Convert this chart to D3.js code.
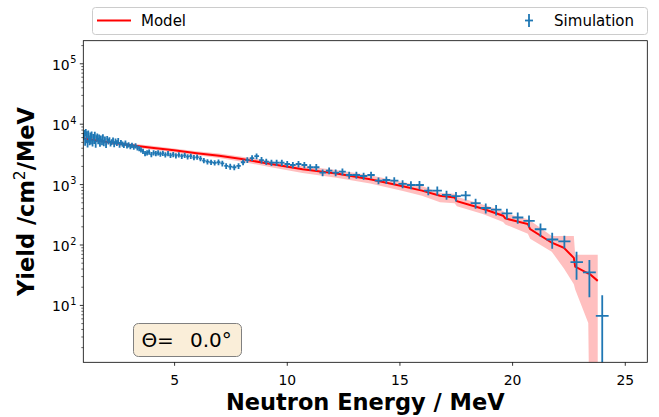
<!DOCTYPE html>
<html><head><meta charset="utf-8">
<script src="https://cdn.jsdelivr.net/npm/d3@7"></script>
<style>body{margin:0;background:#fff;} svg{display:block;font-family:"DejaVu Sans",sans-serif;}</style>
</head><body><svg id="c" width="659" height="417"></svg>
<script>
// ---- data ----
const simE = [1.00,1.03,1.05,1.08,1.11,1.13,1.16,1.19,1.22,1.25,
  1.28,1.31,1.34,1.38,1.41,1.45,1.48,1.52,1.55,1.59,
  1.63,1.67,1.71,1.75,1.80,1.84,1.88,1.93,1.98,2.03,
  2.08,2.13,2.18,2.23,2.29,2.34,2.40,2.46,2.52,2.58,
  2.64,2.71,2.77,2.84,2.91,2.98,3.06,3.13,3.21,3.29,
  3.37,3.45,3.53,3.62,3.71,3.80,3.89,3.99,4.09,4.19,
  4.29,4.39,4.50,4.61,4.73,4.84,4.96,5.08,5.21,5.34,
  5.47,5.60,5.74,5.88,6.02,6.17,6.32,6.48,6.64,6.80,
  6.97,7.14,7.31,7.49,7.67,7.86,8.06,8.25,8.46,8.66,
  8.88,9.09,9.32,9.55,9.78,10.02,10.27,10.52,10.78,11.04,
  11.31,11.59,11.88,12.17,12.47,12.77,13.09,13.41,13.74,14.07,
  14.42,14.77,15.14,15.51,15.89,16.28,16.68,17.09,17.51,17.94,
  18.38,18.83,19.29,19.77,20.25,20.75,21.26,21.78,22.32,22.86,23.43,24.00];
const simY = [6200,6900,5000,7200,5500,6600,4700,6800,5600,5100,
  6300,5200,6600,4800,6000,5300,6500,4600,5700,6100,
  5200,5900,4700,5700,5000,6000,4800,5500,4500,5600,
  5100,5400,4700,5000,5300,4600,5100,4800,5200,4500,
  4900,4600,4400,4800,4300,4500,4200,4400,4100,4300,
  4000,3900,3700,3500,3200,3300,3400,3100,3300,3200,
  3300,3150,3250,3050,3200,3000,3100,2950,3050,2900,
  3000,2850,2900,2750,2800,2650,2450,2350,2300,2250,
  2300,2200,2000,1950,1900,2000,2300,2500,2700,2900,
  2500,2350,2260,2260,2260,2150,2070,2150,2070,1900,
  1900,1545,1668,1545,1605,1415,1415,1362,1415,1138,
  1169,1138,1005,967,967,778,778,662,630,650,
  483,402,377,327,280,247,179,121,113,51,34.5,6.6];
const simRelErr = [0.14,0.14,0.14,0.14,0.14,0.14,0.14,0.14,0.14,0.14,
  0.13,0.13,0.13,0.13,0.13,0.13,0.13,0.13,0.13,0.13,
  0.12,0.12,0.12,0.12,0.12,0.12,0.12,0.12,0.12,0.12,
  0.11,0.11,0.11,0.11,0.11,0.11,0.11,0.11,0.11,0.11,
  0.10,0.10,0.10,0.10,0.10,0.10,0.10,0.10,0.10,0.10,
  0.10,0.10,0.10,0.10,0.10,0.10,0.10,0.10,0.10,0.10,
  0.10,0.10,0.10,0.10,0.10,0.10,0.10,0.10,0.10,0.10,
  0.10,0.10,0.10,0.10,0.10,0.10,0.10,0.10,0.10,0.10,
  0.11,0.11,0.11,0.11,0.11,0.11,0.11,0.11,0.11,0.11,
  0.12,0.12,0.12,0.12,0.12,0.12,0.12,0.12,0.12,0.12,
  0.13,0.13,0.13,0.13,0.13,0.13,0.13,0.13,0.13,0.13,
  0.14,0.14,0.15,0.15,0.16,0.16,0.17,0.17,0.18,0.18,
  0.19,0.19,0.20,0.20,0.21,0.22,0.25,0.30,0.24,0.49,0.61,1.18];

const modelE  = [1.0,2.0,3.0,4.0,5.0,6.0,7.0,8.0,9.3,10.7,12.2,13.7,15.2,16.0,16.8,17.45,17.55,18.7,19.6,19.7,20.7,20.8,21.76,22.3,22.74,22.8,23.38,23.42,23.8];
const modelY  = [5700,5000,4450,4000,3630,3250,2950,2600,2150,1760,1500,1200,910,780,640,600,520,390,300,270,218,180,107,88,60,43,33,33,25];
const modelHi = [6100,5350,4750,4300,3900,3500,3200,2850,2400,2000,1720,1400,1070,930,720,690,620,460,360,330,262,250,138,138,138,68,68,68,68];
const modelLo = [5300,4650,4150,3700,3350,3000,2700,2350,1900,1520,1280,1020,760,640,500,480,430,320,235,215,150,125,76,40,22,18,5,0.3,0.3];

const xTicks = [5,10,15,20,25];
const yMajor = [10,100,1000,10000,100000];
const yExp = ["1","2","3","4","5"];

// ---- layout ----
const m = {left:83.3, right:647.3, top:40.7, bottom:362.3};
const x = d3.scaleLinear().domain([0.97,26]).range([m.left,m.right]);
const y = d3.scaleLog().domain([1.122,236600]).range([m.bottom,m.top]);
const svg = d3.select("#c");

svg.append("defs").append("clipPath").attr("id","clip").append("rect")
  .attr("x",m.left).attr("y",m.top).attr("width",m.right-m.left).attr("height",m.bottom-m.top);
const plot = svg.append("g").attr("clip-path","url(#clip)");

const idx = d3.range(modelE.length);
plot.append("path").datum(idx)
  .attr("d", d3.area().x(i=>x(modelE[i])).y0(i=>y(modelLo[i])).y1(i=>y(modelHi[i])))
  .attr("fill","#ff0000").attr("fill-opacity",0.25);
plot.append("path").datum(idx)
  .attr("d", d3.line().x(i=>x(modelE[i])).y(i=>y(modelY[i])))
  .attr("fill","none").attr("stroke","#ff0000").attr("stroke-width",2);

const n = simE.length;
const edgeLo = simE.map((e,i)=> i>0 ? (simE[i-1]+e)/2 : e-(simE[1]-e)/2);
const edgeHi = simE.map((e,i)=> i<n-1 ? (simE[i+1]+e)/2 : e+(e-simE[n-2])/2);
const sg = plot.append("g").attr("stroke","#1f77b4").attr("stroke-width",1.8);
sg.selectAll("line.h").data(simE).join("line").attr("class","h")
  .attr("x1",(e,i)=>x(edgeLo[i])).attr("x2",(e,i)=>x(edgeHi[i]))
  .attr("y1",(e,i)=>y(simY[i])).attr("y2",(e,i)=>y(simY[i]));
sg.selectAll("line.v").data(simE).join("line").attr("class","v")
  .attr("x1",e=>x(e)).attr("x2",e=>x(e))
  .attr("y1",(e,i)=>{const lo=simY[i]*(1-simRelErr[i]); return lo>0? y(lo): m.bottom+10;})
  .attr("y2",(e,i)=>y(simY[i]*(1+simRelErr[i])));

// ---- axes ----
const xa = svg.append("g").attr("transform",`translate(0,${m.bottom})`)
  .call(d3.axisBottom(x).tickValues(xTicks).tickSize(3.5).tickFormat(d3.format("d")));
xa.select(".domain").remove();
xa.selectAll("line").attr("stroke","#000").attr("stroke-width",0.8);
xa.selectAll("text").attr("y",22.7).attr("dy",0).attr("font-size",13.9)
  .attr("font-family","DejaVu Sans").attr("fill","#000");

const minor = [];
for (let p=0;p<=5;p++) for (let k=2;k<=9;k++){const v=k*Math.pow(10,p); if(v>1.122&&v<236600) minor.push(v);}
const ya = svg.append("g").attr("transform",`translate(${m.left},0)`)
  .call(d3.axisLeft(y).tickValues(yMajor).tickSize(3.5).tickFormat(""));
ya.select(".domain").remove();
ya.selectAll("line").attr("stroke","#000").attr("stroke-width",0.8);
const ym = svg.append("g").attr("transform",`translate(${m.left},0)`)
  .call(d3.axisLeft(y).tickValues(minor).tickSize(2).tickFormat(""));
ym.select(".domain").remove();
ym.selectAll("line").attr("stroke","#000").attr("stroke-width",0.6);

const yl = svg.append("g").attr("font-size",13.9).attr("fill","#000");
yMajor.forEach((t,i)=>{
  const tx = yl.append("text").attr("x",m.left-7).attr("y",y(t)+6.5).attr("text-anchor","end");
  tx.append("tspan").text("10");
  tx.append("tspan").attr("dy",-6.5).attr("dx",0.5).attr("font-size",9.7).text(yExp[i]);
});

svg.append("rect").attr("x",m.left).attr("y",m.top).attr("width",m.right-m.left).attr("height",m.bottom-m.top)
  .attr("fill","none").attr("stroke","#000").attr("stroke-width",0.8);

// axis labels
svg.append("text").attr("x",(m.left+m.right)/2).attr("y",410).attr("text-anchor","middle")
  .attr("font-size",22.5).attr("font-weight","bold").text("Neutron Energy / MeV");
const ylab = svg.append("text").attr("transform",`translate(34,${(m.top+m.bottom)/2}) rotate(-90)`)
  .attr("text-anchor","middle").attr("font-size",22.5).attr("font-weight","bold");
ylab.append("tspan").text("Yield /cm");
ylab.append("tspan").attr("dy",-9).attr("font-size",15.5).attr("font-weight","normal").text("2");
ylab.append("tspan").attr("dy",9).text("/MeV");

// legend
const lg = svg.append("g");
lg.append("rect").attr("x",92.5).attr("y",7.5).attr("width",555).attr("height",27).attr("rx",3)
  .attr("fill","#fff").attr("fill-opacity",0.8).attr("stroke","#cccccc").attr("stroke-width",1);
lg.append("line").attr("x1",97).attr("x2",131).attr("y1",20.5).attr("y2",20.5).attr("stroke","#ff0000").attr("stroke-width",2);
lg.append("text").attr("x",141).attr("y",26).attr("font-size",15).text("Model");
lg.append("line").attr("x1",529).attr("x2",529).attr("y1",14).attr("y2",27).attr("stroke","#1f77b4").attr("stroke-width",1.8);
lg.append("line").attr("x1",525).attr("x2",533).attr("y1",20.5).attr("y2",20.5).attr("stroke","#1f77b4").attr("stroke-width",1.8);
lg.append("text").attr("x",634).attr("y",26).attr("font-size",15).attr("text-anchor","end").text("Simulation");

// angle box
const ab = svg.append("g");
ab.append("rect").attr("x",133.5).attr("y",323.5).attr("width",108).attr("height",33).attr("rx",5)
  .attr("fill","#faeed9").attr("stroke","#808080").attr("stroke-width",1);
const at = ab.append("text").attr("y",347).attr("font-size",20);
at.append("tspan").attr("x",141.5).text("Θ");
at.append("tspan").attr("x",157).text("=");
at.append("tspan").attr("x",190).text("0.0°");
</script></body></html>
